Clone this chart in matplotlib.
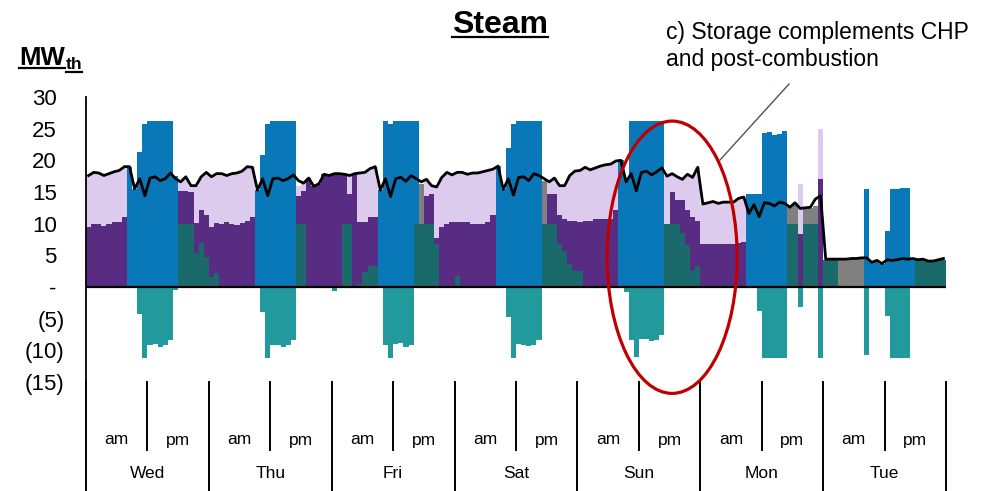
import numpy as np
import matplotlib
matplotlib.use('Agg')
import matplotlib.pyplot as plt
import matplotlib.transforms as mtransforms
from matplotlib.patches import Ellipse
from matplotlib.lines import Line2D

plt.rcParams['font.family'] = ['Liberation Sans', 'DejaVu Sans']

W, H = 1000, 491

DAYS = ['Wed', 'Thu', 'Fri', 'Sat', 'Sun', 'Mon', 'Tue']
Y_TICKS = [30, 25, 20, 15, 10, 5, 0, -5, -10, -15]
Y_LABELS = ['30', '25', '20', '15', '10', '5', '-', '(5)', '(10)', '(15)']

# hourly steam demand [MW_th], one row per day
demand = [
    [17.6, 18.1, 18.0, 17.6, 17.9, 18.2, 18.4, 19.0, 19.0, 15.5, 17.1, 14.4, 17.2, 17.4, 16.8, 17.1, 18.0, 17.1, 16.6, 17.4, 16.0, 16.0, 17.4, 18.1],
    [17.4, 17.9, 17.9, 17.6, 17.9, 18.0, 18.3, 19.0, 18.9, 15.3, 17.1, 14.4, 17.1, 17.2, 16.8, 17.1, 17.7, 16.8, 16.4, 17.2, 15.9, 16.3, 17.8, 17.6],
    [17.9, 17.9, 17.8, 17.6, 17.9, 18.0, 18.1, 18.7, 19.0, 15.3, 17.1, 14.3, 17.1, 17.3, 16.7, 17.6, 17.1, 16.6, 17.0, 16.0, 15.8, 17.3, 18.1, 17.7],
    [18.1, 18.1, 17.8, 18.0, 18.0, 18.2, 18.4, 18.6, 19.1, 15.4, 17.1, 14.5, 17.3, 17.4, 16.8, 17.9, 17.6, 17.1, 16.6, 17.2, 16.0, 16.0, 17.6, 18.3],
    [18.4, 18.9, 18.5, 18.8, 19.1, 19.3, 19.4, 19.9, 20.0, 16.6, 17.9, 15.2, 18.1, 18.3, 17.7, 18.2, 18.8, 17.5, 17.9, 17.4, 17.0, 17.8, 17.3, 18.9],
    [13.1, 13.3, 13.5, 13.2, 13.4, 13.4, 13.4, 14.0, 14.2, 11.6, 13.0, 11.1, 13.3, 13.2, 12.8, 13.4, 13.2, 12.6, 13.3, 12.4, 12.5, 12.6, 13.9, 14.4],
    [4.4, 4.4, 4.4, 4.4, 4.4, 4.5, 4.5, 4.6, 4.6, 3.9, 4.2, 3.7, 4.3, 4.2, 4.3, 4.5, 4.4, 4.5, 4.3, 4.4, 4.1, 4.1, 4.3, 4.5],
]

# storage discharge (dark teal)
storage_out = [
    [0, 0, 0, 0, 0, 0, 0, 0, 0, 0, 0, 0, 0, 0, 0, 0, 0, 0, 10, 10, 10, 5.3, 7.0, 4.7],
    [1.6, 2.2, 0, 0, 0, 0, 0, 0, 0, 0, 0, 0, 0, 0, 0, 0, 0, 10, 10, 0, 0, 0, 0, 0],
    [0, 0, 10, 10, 0, 0.5, 2.3, 3.3, 3.3, 0, 0, 0, 0, 0, 0, 0, 10, 10, 10, 10, 6.8, 0, 0, 0],
    [1.7, 0, 0, 0, 0, 0, 0, 0, 0, 0, 0, 0, 0, 0, 0, 0, 0, 10, 10, 10, 6.8, 5.7, 3.6, 2.5],
    [2.5, 0, 0, 0, 0, 0, 0, 0, 0, 0, 0, 0, 0, 0, 0, 0, 0, 10, 10, 10, 8.5, 6.6, 2.5, 3.3],
    [0, 0, 0, 0, 0, 0, 0, 0, 0, 0, 0, 0, 0, 0, 0, 0, 0, 10, 10, 0, 10, 10, 10, 0],
    [4.3, 4.3, 4.3, 0, 0, 0, 0, 0, 0, 0, 0, 0, 0, 0, 0, 0, 0, 0, 4.3, 4.3, 4.3, 4.3, 4.3, 4.3],
]

# CHP (blue)
chp = [
    [0, 0, 0, 0, 0, 0, 0, 0, 19.0, 15.5, 21.3, 25.7, 26.2, 26.2, 26.2, 26.2, 26.2, 17.6, 0, 0, 0, 0, 0, 0],
    [0, 0, 0, 0, 0, 0, 0, 0, 0, 15.3, 20.9, 25.7, 26.2, 26.2, 26.2, 26.2, 26.2, 0, 0, 0, 0, 0, 0, 0],
    [0, 0, 0, 0, 0, 0, 0, 0, 0, 15.3, 26.2, 25.7, 26.2, 26.2, 26.2, 26.2, 16.2, 0, 0, 0, 0, 0, 0, 0],
    [0, 0, 0, 0, 0, 0, 0, 0, 19.1, 15.4, 21.9, 25.7, 26.2, 26.2, 26.2, 26.2, 26.2, 0, 0, 0, 0, 0, 0, 0],
    [0, 0, 0, 0, 0, 0, 0, 0, 20.0, 17.2, 26.2, 26.2, 26.2, 26.2, 26.2, 26.2, 26.2, 0, 0, 0, 0, 0, 0, 0],
    [0, 0, 0, 0, 0, 0, 0, 0, 0, 14.7, 14.7, 14.7, 24.3, 24.4, 24.0, 24.2, 24.7, 0, 0, 0, 0, 0, 0, 0],
    [0, 0, 0, 0, 0, 0, 0, 0, 15.5, 3.9, 4.2, 3.7, 8.9, 15.5, 15.4, 15.6, 15.7, 4.5, 0, 0, 0, 0, 0, 0],
]

# dark purple
boiler = [
    [9.5, 10.0, 9.9, 9.7, 10.0, 10.2, 10.3, 11.1, 0, 0, 0, 0, 0, 0, 0, 0, 0, 0, 5.2, 5.2, 5.0, 4.8, 5.2, 6.6],
    [7.8, 7.9, 10.0, 10.2, 10.0, 9.8, 10.1, 10.4, 11.0, 0, 0, 0, 0, 0, 0, 0, 0, 4.4, 5.2, 17.2, 15.9, 16.3, 17.8, 17.6],
    [17.9, 17.9, 7.9, 4.7, 17.9, 9.7, 8.0, 7.8, 7.8, 0, 0, 0, 0, 0, 0, 0, 0, 0, 4.3, 4.7, 1.0, 9.4, 10.0, 10.2],
    [8.5, 10.2, 10.2, 10.0, 10.0, 10.0, 10.3, 11.3, 0, 0, 0, 0, 0, 0, 0, 0, 0, 0, 4.7, 4.7, 4.5, 5.0, 6.9, 8.0],
    [7.8, 10.5, 10.5, 10.7, 10.7, 10.8, 10.8, 12.2, 0, 0, 0, 0, 0, 0, 0, 0, 0, 0, 5.0, 3.7, 5.2, 5.5, 8.6, 7.2],
    [6.8, 6.8, 6.8, 6.8, 6.8, 6.8, 6.8, 6.9, 7.1, 0, 0, 0, 0, 0, 0, 0, 0, 0, 0, 8.4, 0, 0, 0, 17.0],
    [0, 0, 0, 0, 0, 0, 0, 0, 0, 0, 0, 0, 0, 0, 0, 0, 0, 0, 0, 0, 0, 0, 0, 0],
]

# gray
other = [
    [0, 0, 0, 0, 0, 0, 0, 0, 0, 0, 0, 0, 0, 0, 0, 0, 0, 0, 0, 0, 0, 0, 0, 0],
    [0, 0, 0, 0, 0, 0, 0, 0, 0, 0, 0, 0, 0, 0, 0, 0, 0, 0, 0, 0, 0, 0, 0, 0],
    [0, 0, 0, 0, 0, 0, 0, 0, 0, 0, 0, 0, 0, 0, 0, 0, 0, 6.3, 0, 0, 0, 0, 0, 0],
    [0, 0, 0, 0, 0, 0, 0, 0, 0, 0, 0, 0, 0, 0, 0, 0, 0, 6.8, 0, 0, 0, 0, 0, 0],
    [0, 0, 0, 0, 0, 0, 0, 0, 0, 0, 0, 0, 0, 0, 0, 0, 0, 0, 0, 0, 0, 0, 0, 0],
    [0, 0, 0, 0, 0, 0, 0, 0, 0, 0, 0, 0, 0, 0, 0, 0, 0, 2.6, 3.0, 0, 2.4, 2.5, 2.8, 0],
    [0, 0, 0, 4.4, 4.4, 4.4, 4.5, 4.5, 0, 0, 0, 0, 0, 0, 0, 0, 0, 0, 0, 0, 0, 0, 0, 0],
]

# light lavender
post_comb = [
    [8.1, 8.1, 8.1, 7.9, 7.9, 8.0, 8.1, 7.9, 0, 0, 0, 0, 0, 0, 0, 0, 0, 0, 1.4, 2.2, 1.0, 5.9, 5.2, 6.8],
    [8.0, 7.8, 7.9, 7.4, 7.9, 8.2, 8.2, 8.6, 7.9, 0, 0, 0, 0, 0, 0, 0, 0, 1.6, 1.2, 0, 0, 0, 0, 0],
    [0, 0, 0, 2.9, 0, 7.8, 7.8, 7.6, 7.9, 0, 0, 0, 0, 0, 0, 0, 0, 0, 2.7, 1.3, 8.0, 7.9, 8.1, 7.5],
    [7.9, 7.9, 7.6, 8.0, 8.0, 8.2, 8.1, 7.3, 0, 0, 0, 0, 0, 0, 0, 0, 0, 0, 1.9, 2.5, 4.7, 5.3, 7.1, 7.8],
    [8.1, 8.4, 8.0, 8.1, 8.4, 8.5, 8.6, 7.7, 0, 0, 0, 0, 0, 0, 0, 0, 0, 7.5, 2.9, 3.7, 3.3, 5.7, 6.2, 8.4],
    [6.3, 6.5, 6.7, 6.4, 6.6, 6.6, 6.6, 7.1, 7.1, 0, 0, 0, 0, 0, 0, 0, 0, 0, 0, 7.8, 0, 0, 0, 7.9],
    [0, 0, 0, 0, 0, 0, 0, 0, 0, 0, 0, 0, 0, 0, 0, 0, 0, 0, 0, 0, 0, 0, 0, 0],
]

# storage charging (negative, teal)
storage_in = [
    [0, 0, 0, 0, 0, 0, 0, 0, 0, 0, -4.2, -11.2, -9.1, -9.0, -9.5, -9.2, -8.3, -0.5, 0, 0, 0, 0, 0, 0],
    [0, 0, 0, 0, 0, 0, 0, 0, 0, 0, -3.9, -11.2, -9.1, -9.1, -9.5, -9.2, -8.3, 0, 0, 0, 0, 0, 0, 0],
    [-0.6, 0, 0, 0, 0, 0, 0, 0, 0, 0, -9.1, -11.2, -9.0, -8.8, -9.4, -9.2, 0, 0, 0, 0, 0, 0, 0, 0],
    [0, 0, 0, 0, 0, 0, 0, 0, 0, 0, -4.8, -11.2, -9.0, -9.1, -9.3, -9.2, -8.3, 0, 0, 0, 0, 0, 0, 0],
    [0, 0, 0, 0, 0, 0, 0, 0, 0, -0.8, -8.3, -11.1, -8.2, -8.2, -8.5, -8.3, -7.5, 0, 0, 0, 0, 0, 0, 0],
    [0, 0, 0, 0, 0, 0, 0, 0, 0, 0, 0, -3.8, -11.2, -11.2, -11.2, -11.2, -11.2, 0, 0, -3.2, 0, 0, 0, -11.2],
    [0, 0, 0, 0, 0, 0, 0, 0, -10.7, 0, 0, 0, -4.6, -11.2, -11.2, -11.2, -11.2, 0, 0, 0, 0, 0, 0, 0],
]

C_TEAL_D = '#1a6a6c'
C_TEAL = '#229a9d'
C_BLUE = '#0878b8'
C_PURPLE = '#582c83'
C_LAV = '#dccbec'
C_GRAY = '#808080'


def fy(py):
    return 1 - py / H


def stepped(v):
    # repeat last value so step='post' closes the final hour
    return np.append(v, v[-1])


fig = plt.figure(figsize=(W / 100, H / 100), dpi=100)
ax = fig.add_axes([86 / W, fy(382), 860 / W, (382 - 97) / H])

n = len(DAYS) * 24
edges = np.arange(n + 1)

# ── stacked hourly supply (step areas; lower layers drawn on top so the
#    zero-height slivers of upper layers never show) ─────────────────────────
layers = [(storage_out, C_TEAL_D), (chp, C_BLUE), (boiler, C_PURPLE),
          (other, C_GRAY), (post_comb, C_LAV)]
bottom = np.zeros(n)
for i, (series, col) in enumerate(layers):
    v = np.asarray(np.concatenate(series), dtype=float)
    ax.fill_between(edges, stepped(bottom), stepped(bottom + v), step='post',
                    facecolor=col, linewidth=0, zorder=2.5 - 0.1 * i)
    bottom = bottom + v

neg = np.asarray(np.concatenate(storage_in), dtype=float)
ax.fill_between(edges, 0, stepped(neg), step='post', facecolor=C_TEAL,
                linewidth=0, zorder=2.5)

ax.axhline(0, color='black', lw=1.6, zorder=3)
ax.plot(edges[:-1] + 0.5, np.concatenate(demand), color='black', lw=2.0,
        zorder=4)

ax.set_xlim(0, n)
ax.set_ylim(-15, 30)
for s in ['top', 'right', 'bottom']:
    ax.spines[s].set_visible(False)
ax.spines['left'].set_linewidth(1.3)
ax.set_xticks([])
ax.set_yticks(Y_TICKS, Y_LABELS)
ax.tick_params(axis='y', length=0, pad=21, labelsize=16)
shift = mtransforms.ScaledTranslation(8 / 100, 0, fig.dpi_scale_trans)
for tick, lab in zip(Y_TICKS, ax.get_yticklabels()):
    if tick < 0:
        lab.set_transform(lab.get_transform() + shift)

# ── day / am-pm category axis ───────────────────────────────────────────────
trans = mtransforms.blended_transform_factory(ax.transData, fig.transFigure)
for d in range(len(DAYS) + 1):
    ax.add_line(Line2D([24 * d, 24 * d], [fy(382), fy(491)], transform=trans,
                       color='black', lw=1.4, clip_on=False))
for d, day in enumerate(DAYS):
    ax.add_line(Line2D([24 * d + 12, 24 * d + 12], [fy(382), fy(450)],
                       transform=trans, color='black', lw=1.4, clip_on=False))
    ax.text(24 * d + 6, fy(440), 'am', transform=trans, ha='center',
            va='center', fontsize=12.5)
    ax.text(24 * d + 18, fy(440), 'pm', transform=trans, ha='center',
            va='center', fontsize=12.5)
    ax.text(24 * d + 12, fy(473), day, transform=trans, ha='center',
            va='center', fontsize=12.5)

# ── annotation ──────────────────────────────────────────────────────────────
ax.add_patch(Ellipse((114.5, 4.7), 25.4, 43, fill=False, edgecolor='#c00000',
                     lw=2.3, clip_on=False, zorder=6))
fig.add_artist(Line2D([789 / W, 720 / W], [fy(84), fy(160)], color='#44546a',
                      lw=1.0))
fig.text(666 / W, fy(39), 'c) Storage complements CHP', fontsize=16.5,
         va='baseline', ha='left')
fig.text(666 / W, fy(66), 'and post-combustion', fontsize=16.5,
         va='baseline', ha='left')

# ── titles with underline ───────────────────────────────────────────────────
t_title = fig.text(0.5, fy(33), 'Steam', fontsize=23, fontweight='bold',
                   ha='center', va='baseline')
t_mw = fig.text(19 / W, fy(65), 'MW', fontsize=18.5, fontweight='bold',
                ha='left', va='baseline')
fig.canvas.draw()
r = fig.canvas.get_renderer()
bb_mw = t_mw.get_window_extent(r)
t_th = fig.text((bb_mw.x1 + 1) / W, fy(69), 'th', fontsize=12.5,
                fontweight='bold', ha='left', va='baseline')
fig.canvas.draw()
bb_title = t_title.get_window_extent(r)
bb_th = t_th.get_window_extent(r)
for bb, py in [(bb_title, 37), (bb_mw, 67.5), (bb_th, 71.5)]:
    fig.add_artist(Line2D([bb.x0 / W, bb.x1 / W], [fy(py), fy(py)],
                          color='black', lw=1.6))

fig.savefig('out.png', dpi=100)
plt.close(fig)
